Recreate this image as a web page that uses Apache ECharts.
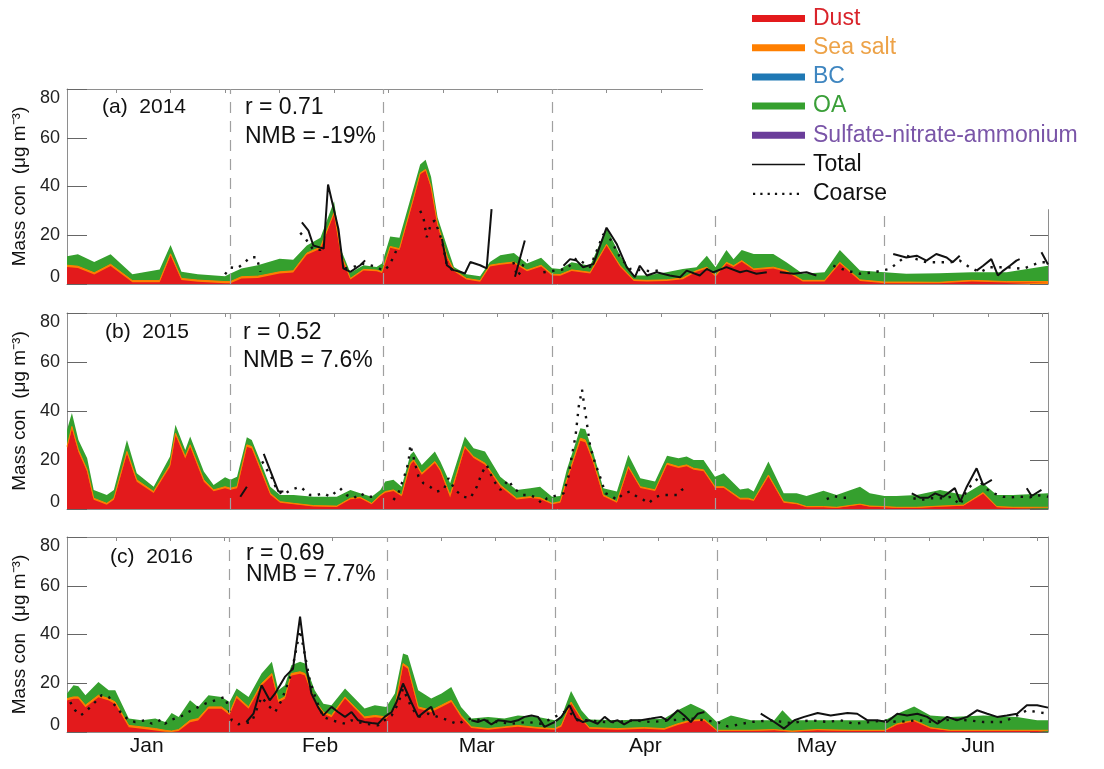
<!DOCTYPE html>
<html><head><meta charset="utf-8">
<script src="https://cdn.jsdelivr.net/npm/echarts@6/dist/echarts.min.js"></script>
<style>html,body{margin:0;padding:0;background:#fff}#c{width:1104px;height:769px}</style>
</head><body><div id="c"></div>
<script>
// ---------------- DATA ----------------
const monthLabels = ['Jan','Feb','Mar','Apr','May','Jun'];
const seriesNames = ['Dust','Sea salt','BC','OA','Sulfate-nitrate-ammonium','Total','Coarse'];
const yTicks = [0,20,40,60,80];
const panelLabels = ['(a)  2014','(b)  2015','(c)  2016'];
const rTexts = ['r = 0.71','r = 0.52','r = 0.69'];
const nmbTexts = ['NMB = -19%','NMB = 7.6%','NMB = 7.7%'];

// Panel (a) 2014 model components (day index, µg m-3)
const daysA = [1,3,6,9,13,18,20,22,25,30,31,33,36,40,42.5,45,47.5,50,51.3,53,55.4,57.8,58.8,60.3,62,64.6,65.8,66.8,67.8,69,70.8,72,74.3,76.8,78.6,80.5,83,85.4,88,90,91.5,93.6,97,100,102.5,105,107.4,111,114,116.5,118.4,120,122,123.3,124.8,127,130.6,133,136,140,142.8,146.5,151,155,161,167,173.4,181];
const dustA = [7.0,6.6,3.9,7.4,0.7,0.7,11.7,1.6,0.9,0.3, 0.3,2.3,2.5,4.3,4.7,12.0,14.5,28.8,11.5,1.8, 5.5,5.2,4.5,14.9,14.0,34.9,45.0,46.5,39.5,24.1, 10.5,5.2,1.8,0.9,7.2,7.9,8.5,5.2,7.2,3.5, 3.4,5.3,4.3,15.8,7.0,1.2,1.0,1.2,2.0,5.0, 6.4,3.0,8.4,7.0,9.1,5.7,6.4,5.0,1.0,1.0, 8.4,1.2,0.3,0.3,0.3,1.0,0.6,0.6];
const saltA = [0.7,0.7,0.7,0.7,0.7,0.7,0.7,0.7,0.7,0.7, 0.7,0.7,0.7,0.7,0.7,0.7,0.6,0.5,0.5,0.5, 0.5,0.5,0.5,0.5,0.5,0.5,0.5,0.5,0.5,0.5, 0.5,0.5,0.5,0.5,0.5,0.5,0.5,0.5,0.5,0.5, 0.5,0.5,0.5,0.5,0.5,0.5,0.5,0.5,0.5,0.5, 0.5,0.5,0.5,0.5,0.5,0.5,0.5,0.5,0.5,0.5, 0.5,0.5,0.5,0.5,0.4,0.5,0.4,0.4];
const oaA = [3.7,4.9,4.4,4.1,2.6,4.6,3.6,2.7,2.4,2.2, 3.3,3.4,4.5,5.4,4.6,3.1,3.9,4.7,2.0,2.3, 1.7,1.3,3.4,4.1,4.5,4.1,3.5,4.0,4.0,2.7, 4.0,1.3,1.7,1.8,1.3,3.4,3.7,2.7,3.1,2.5, 2.3,3.1,2.7,6.7,4.1,1.8,2.0,3.1,3.7,1.4, 4.7,3.4,5.0,2.7,4.3,6.1,5.4,3.4,2.7,3.3, 5.0,3.8,4.0,3.4,3.7,3.3,3.8,6.5];
// Panel (a) observations (null = gap)
const totalDaysA = [44.1,45.3,46.2,48.1,48.9,50.8,51.7,53,54.8,55.7,57, 69.8,70.7,71.9,73.1,74,75,76.8,78,78.9,80, 83.2,85,86, 92.1,93.3,94.5,95.7,97.6,100,101.9,103.7,105.2,106.1,107.4,109.2,111.6,113.5,114.7,117.1,118.4,119.6,122,124.5,125.7,127.5,129.4,130.5, 131.8,134.3,136.7,138.5,145, 152.6,155,156.9,158.7,160.5,162.4,163.5,164.8,166, 167.9,169.1,170.6,171.8,172.8,174,175.2,175.8,177, 179.8,181];
const totalA = [25.3,21.9,15.8,14.5,40.8,22.6,6.4,5,7.7,9.7,null, 18.5,7.7,5.7,5,4.3,9,7.7,6.4,30.7,null, 3,17.8,null, 7.5,10.2,9.6,6.9,8.2,23.1,16.3,6.9,2.8,7.5,3.5,4.8,3.5,2.8,5.5,3.5,6.2,4.8,6.9,4.8,5.5,4.2,4.8,null, 4.8,4.2,4.8,3.5,null, 12.3,10.9,11.6,9.6,12.3,10.9,8.9,11.6,null, 5.5,7.5,10.2,3.5,5.5,7.5,9.6,10.2,null, 13,8];
const coarseDaysA = [30,31,32.2,33.4,34.6,35.8,36.5,38, 43.8,44.7,46.2,47.5,48.1,49.5, 52,53.6,55.1,56.6,57.8,59.1,60,60.9,61.8,63, 65.8,66.4,67,67.9,68.5,69.8,70.7,71.9,73, 82.9,83.6,84.2,85,85.6,87, 88.4,90.5,92.7,94.5,97,99.4,100.6,102.5,104.3,108.6,110.4,112, 141.6,144,146.5,149,152,153.5,155,156.9,158.7,161.2,163,164.8,166.6,168.5,170.3,173.4,176.4,179.5,181];
const coarseA = [4,6.8,6.4,8.4,11,11,5,null, 21,18.8,14,14,15.1,null, 6.4,7,8.4,7.7,7,5.4,7.3,11,15.8,null, 30,27.3,19.2,25.3,26,17.8,7.7,5.4,null, 9,3,5,9.7,9.7,null, 4.8,5.5,6.2,10.6,6.9,20.4,18.7,10.9,6.2,5.1,6.2,null, 7.5,5.5,4.2,4.8,6.2,8.9,11.6,10.2,8.9,8.9,8.9,9.6,6.9,4.8,6.9,6.9,6.2,8.9,8.9];

// Panel (b) 2015
const daysB = [1,1.9,3.1,4.7,5.9,8.3,9.6,12,13.8,16.9, 19.9,20.9,22.7,23.6,26.1,27.9,30,31,32.2,34, 34.9,36.5,38.3,40.1,42.6,46.2,50.5,53,54.8,56.9, 58.5,59.4,60.9,62.4,64,64.6,66.1,68.5,69.5,71.3, 74,75.6,77.7,80.5,83.5,86,87.8,90,91.5,92.7, 95.2,96.1,97.6,99.4,101.9,104,106.2,108.9,111.1,113.2, 114.7,116,117.8,119.9,121.5,124.5,126,127,129.7,132.5, 134.9,136.7,139.8,142.2,146.5,148.3,151,153.2,156.9,161.2, 165.5,169.1,171.6,174.6,181];
const dustB = [24.7,32.9,23.3,15.2,3.8,1.7,3.8,22.7,11.1,6.5, 17.2,30.2,20.6,25.4,11.1,7.2,8.5,7.9,8.5,25.4, 24.7,15.8,5.8,2.6,1.9,1.0,0.8,4.0,4.4,1.9, 5.3,6.6,7.3,5.2,18.1,19.5,14.0,18.8,15.4,4.7, 24.9,20.8,18.1,9.2,3.9,4.5,4.1,1.9,2.6,11.3, 27.9,27.2,18.6,5.2,2.6,16.7,8.6,7.3,18.1,16.7, 17.4,16.0,15.4,8.6,8.6,3.9,3.9,3.3,13.3,2.6, 1.9,0.7,0.7,0.4,1.7,0.9,0.7,0.4,0.4,0.9, 1.3,6.2,0.7,0.4,0.4];
const saltB = [0.8,0.8,0.8,0.8,0.6,0.6,0.6,0.8,0.8,0.6, 0.8,0.8,0.8,0.8,0.8,0.6,0.6,0.6,0.6,0.8, 0.8,0.8,0.6,0.4,0.4,0.4,0.4,0.4,0.4,0.4, 0.4,0.5,0.5,0.5,0.6,0.6,0.6,0.6,0.6,1.0, 0.6,0.6,0.6,0.6,0.5,0.5,0.5,0.4,0.4,0.6, 1.0,1.0,0.8,0.5,0.4,0.6,0.5,0.5,0.6,0.6, 0.6,0.6,0.6,0.5,0.5,0.5,0.5,0.4,0.6,0.4, 0.4,0.3,0.3,0.3,0.3,0.3,0.3,0.3,0.3,0.3, 0.3,0.5,0.3,0.3,0.3];
const oaB = [6.8,5.5,4.1,4.7,3.4,3.4,3.4,4.7,2.7,2.0, 3.4,3.4,2.7,3.4,3.4,2.0,3.9,3.4,4.1,3.1, 2.7,2.8,2.7,2.7,3.4,3.6,3.8,3.4,1.6,2.7, 2.1,4.1,4.1,3.4,3.4,3.4,3.4,4.1,3.4,4.8, 4.1,3.4,4.8,3.4,3.4,3.5,4.5,2.7,2.3,4.1, 4.1,4.4,3.4,2.8,4.1,4.8,3.5,3.4,3.0,3.4, 3.4,3.4,4.0,4.1,5.5,3.6,4.1,3.4,5.5,3.4, 4.1,4.3,6.5,5.0,7.1,5.2,4.3,4.6,5.0,6.6, 4.1,3.8,4.7,5.0,5.7];
const totalDaysB = [32.8,34,35, 37.1,39.8,40.7,42, 156,157.5,159,160.3,161.8,163.9,164.9,166.1,167.9,169.1,170.7,172, 177.1,178,179.8];
const totalB = [5,9.1,null, 22.5,7.1,7.1,null, 6.4,4.6,4.6,6.4,5,8.5,3,9.1,16.6,9.8,11.9,null, 8.5,5.3,7.8];
const coarseDaysB = [36.8,37.4,38,38.6,39.5,40.7,42,43.8,45.6,46.8,48.1,49.3,51.1,52.3,53.6,54.8,56,57.2,58.5, 60.9,61.8,63.3,63.7,64,64.3,65.5,66.4,67.6,68.8,70.1,71,72.2,73.7,75,76.2,77.1,78,79.2,80.5,82,82.9,84.7,86,87.2,88.1,89.1, 92.1,93,93.6,94.3,94.6,94.9,95.2,95.5,97,97.9,98.8,99.8,100.7,101.9,103.1,104.3,105.6,106.8,107.7,108.9,110.1,111.4,112.9,113.8,114.7,116, 140.4,141.6,143.2,144.4,146, 156.3,157.8,159.4,161.8,163.3,164.9,166.1,168.2,169.4,171,172.8,174.3,175.9,177.7,178.9,181];
const coarseB = [19.4,17.3,14.6,12.6,7.8,5.7,7.8,9.1,5.7,5.7,6.4,5,8.5,5.7,4.4,6.4,5,5,null, 3.7,6.4,16,20,26.2,23.5,13.2,10.5,9.1,7.1,7.8,12.6,7.8,5,4.4,9.1,14.6,18,11.9,7.8,11.9,8.5,5.7,5.7,4.4,2.3,4.4, 6.4,13.2,21.4,29.6,35.7,41.9,45.3,48.7,25.5,18.7,13.2,6.4,5.7,3.7,6.4,7.1,5,3.7,2.3,4.8,5.7,5.7,5.7,7.8,9.1,null, 4,5.3,4.6,4.6,null, 4.4,3.7,4.4,4.4,5,1.6,7.8,12.6,8.5,6.4,5,4.8,5,4.8,5.7,5];

// Panel (c) 2016 (leap year)
const daysC = [1,2.2,3.1,4.4,6.8,8.7,9.9,12.4,14.8,17.3, 19.1,20.3,21.6,23.7,25.2,27.1,29.5,31,32.3,34.5, 36.9,38.8,40,41.2,42.4,44,44.9,46.7,48.3,49.8, 52.3,54.1,55.9,57.8,59.9,61.5,63,63.9,65.8,68.2, 70.1,71.9,73.7,75.6,78.7,81.7,84.2,87.9,91,92.2, 94,95.9,97.4,102.6,107.5,111.2,113.7,116.1,118.6,120.9, 123.5,127.2,131.5,133,134.8,139.4,145.6,151.9,154.2,157.3, 160.3,164,170.1,176.3,180,182];
const dustC = [12.9,13.6,13.6,10.2,14.3,12.9,11.5,1.9,1.3,0.6, 0.1,0.0,0.4,4.0,4.7,9.5,9.5,7.0,13.9,9.5, 19.1,23.2,12.2,13.6,23.2,23.9,23.2,12.2,7.5,6.1, 13.7,9.6,5.5,6.1,5.5,9.6,27.3,25.9,9.6,8.2, 10.3,12.3,6.1,1.6,0.9,1.6,2.2,1.3,0.9,2.2, 11.7,5.0,1.3,0.9,1.3,0.9,2.9,4.3,4.6,0.4, 0.4,0.4,0.7,0.4,0.1,0.7,0.4,0.4,3.0,4.4, 1.4,0.4,0.4,0.4,0.4,0.4];
const saltC = [0.8,0.8,0.8,0.8,0.8,0.8,0.8,0.8,0.8,0.8, 0.6,0.4,0.6,0.8,0.8,0.8,0.8,0.8,0.8,0.8, 0.8,0.8,0.8,0.8,0.8,0.8,0.8,0.8,0.7,0.7, 0.7,0.7,0.7,0.7,0.7,0.7,0.8,0.8,0.7,0.7, 0.7,0.7,0.7,0.5,0.5,0.5,0.5,0.5,0.5,0.5, 0.6,0.5,0.5,0.5,0.5,0.5,0.5,0.5,0.5,0.3, 0.3,0.3,0.3,0.3,0.3,0.3,0.3,0.3,0.4,0.4, 0.4,0.3,0.3,0.3,0.3,0.3];
const oaC = [2.1,4.8,4.4,4.1,5.4,3.4,4.8,2.8,2.7,4.1, 3.4,7.4,5.2,8.2,4.8,4.8,4.1,4.5,3.1,4.1, 4.1,4.8,4.1,4.8,3.4,4.1,4.1,4.1,3.4,4.2, 3.4,3.4,3.4,4.2,4.1,5.5,4.1,4.8,6.8,4.8, 4.8,5.5,3.5,3.4,4.8,3.4,4.1,4.4,3.4,3.5, 4.5,3.4,3.3,3.4,3.3,4.1,5.5,6.8,3.8,3.4, 6.1,4.1,3.8,8.2,4.4,3.8,4.1,4.1,4.1,5.7, 5.0,5.5,6.1,5.5,4.1,4.1];
const totalDaysC = [34.1,35.4,36.9,38.4,39.4,41.2,42.7,44,45.2,46.1,47.3,48.3,49.8,51,52.3,53.5,54.7,55.9,57.2,58.4,59.6,60.9,61.8,63,64.5,65.8,67.3,68.2,68.8,70, 75.6,76.8,78,79.3,80.5,81.7,82.9,84.2,85.4,86.7,87.9,89.1,91,92.2,93.7,94.9,96.2,97.4,98.9,100.2,101.4,102.6,103.8,105.1,106.9,108.8,110.6,111.8,113.7,114.9,116.1,117.4,118.6,120, 129,131.5,133.3,135.2,137,139.5,141.9,145,146.8,148.7,150.5,152.3,154.2,156,157.9,159.7,161.6,163.4,165.2,167.1,168.9,170.8,172.6,174.4,176.3,178.1,180,182];
const totalC = [4.1,7.5,19.2,13,15.8,22.6,26,47.3,26,15.8,10.3,6.8,10.3,8.2,6.2,8.2,4.8,4.1,3.7,3.4,6.2,8.2,12.3,19.9,12.3,6.2,8.9,10.3,6.8,null, 4.8,4.1,5.1,3.1,4.8,4.5,4.1,4.8,6.2,6.8,6.2,2.1,4.1,6.2,11,5.5,4.1,4.8,3.4,6.2,4.1,4.8,3.1,4.8,4.8,5.5,6.2,4.8,8.9,6.8,4.1,7.5,8.2,null, 7.5,4.1,1.4,4.8,6.2,7.8,6.8,7.8,7.5,4.8,4.8,4.1,7.5,6.8,7.5,6.2,3.4,6.2,4.8,6.2,8.9,7.5,6.2,6.8,7.5,11,11,10];
const coarseDaysC = [1.6,2.5,3.5,4.4,6.2,7.4,8.7,9.6,11.1,12.4,13.6,15.4,16.7,18.5,19.1,20.3,21.9,23.4,24.6,26.5,28.3,30.2,31.4,32.6,35.1,36.9,38.1,39.4,40.6,42.4,44,44.6,45.8,47,48.3,49.8,52.3,53.5,55.9,58.4,59.6,60.9,62.1,63,64.5,65.8,67.6,69.4,71.3,73.1,74.4,75.6,77.4,80.5,83,86,88.5,93.4,95.2,97.1,100.2,102.6,105.7,108.8,112.4,116.1,118.6,121,122.9,124.1,127.2,130.9,134.5,138.2,141.3,143.7,146.2,149.3,151.7,154.2,157.9,160.9,164,167.1,170.1,173.8,176.3,178.1,180,182];
const coarseC = [12.3,8.9,6.8,8.2,12.3,15.1,14.4,11.6,7.5,4.8,4.1,4.8,3.4,5.1,3.4,5.1,6.2,8.2,9.6,11.6,13,14.4,4.8,3.2,4.1,14.4,10.9,8.2,13,24,41.8,35,21.2,13,6.2,4.8,3.4,4.8,3.4,2.7,4.8,6.8,11.6,17.8,10.3,6.2,7.5,6.2,4.8,3.2,4.8,5.5,4.8,4.1,3.4,4.1,3.4,8.9,4.8,4.8,4.1,4.1,4.8,4.1,4.8,5.5,4.8,4.1,2.3,2.7,4.1,4.8,3.7,4.8,4.1,4.8,3.4,4.1,4.8,4.1,4.8,4.1,5.1,4.8,4.1,4.1,6.8,8.9,8.2,7.5];

// ---------------- CHART ----------------
const FONT = "'Liberation Sans', Arial, Helvetica, sans-serif";
const COLORS = {Dust:'#e31a1c','Sea salt':'#ff7f00',BC:'#1f78b4',OA:'#35a02e','Sulfate-nitrate-ammonium':'#6a3d9a',Total:'#111111',Coarse:'#111111'};
const TEXTCOL = {Dust:'#d9242b','Sea salt':'#eda247',BC:'#3f86c0',OA:'#3a9f38','Sulfate-nitrate-ammonium':'#7a55a8',Total:'#111',Coarse:'#111'};
const zip = (xs, ys) => xs.map((x, i) => [x, ys[i]]);
// cumulative stacking (dust, dust+salt, dust+salt+oa), drawn back-to-front
const cum = (...arrs) => arrs[0].map((_, i) => +arrs.reduce((s, a) => s + a[i], 0).toFixed(3));

const panels = [
  {top:89, height:195, xmax:181, months:[31,59,90,120,151], days:daysA, dust:dustA, salt:saltA, oa:oaA, tD:totalDaysA, tV:totalA, cD:coarseDaysA, cV:coarseA,
   lab:{left:102, top:97}, r:{left:245, top:96}, nmb:{left:245, top:125}},
  {top:313, height:196, xmax:181, months:[31,59,90,120,151], days:daysB, dust:dustB, salt:saltB, oa:oaB, tD:totalDaysB, tV:totalB, cD:coarseDaysB, cV:coarseB,
   lab:{left:105, top:322}, r:{left:243, top:321}, nmb:{left:243, top:349}},
  {top:537, height:195, xmax:182, months:[31,60,91,121,152], days:daysC, dust:dustC, salt:saltC, oa:oaC, tD:totalDaysC, tV:totalC, cD:coarseDaysC, cV:coarseC,
   lab:{left:110, top:547}, r:{left:246, top:542}, nmb:{left:246, top:563}}
];
const tickDays = [10,20,30,40,50,60,70,80,90,100,110,120,130,140,150,160,170,180];
const monthLabelDays = [15.7,47.7,76.6,107.7,139.3,169.1];
const AXC = '#8e8e8e';

const grids = [], xAxes = [], yAxes = [], series = [], titles = [];
panels.forEach((P, p) => {
  grids.push({left:67, right:56, top:P.top, height:P.height, containLabel:false});
  const isLast = p === panels.length - 1;
  xAxes.push({
    type:'value', gridIndex:p, min:1, max:P.xmax, position:'bottom',
    axisLine:{show:true, onZero:false, lineStyle:{color:AXC, width:1}},
    axisTick:{show:true, inside:true, length:4, customValues:tickDays, lineStyle:{color:AXC}},
    axisLabel: isLast ? {show:true, customValues:monthLabelDays, margin:4, fontSize:21, color:'#111', fontFamily:FONT,
      formatter: v => { const i = monthLabelDays.findIndex(m => Math.abs(m - v) < 0.01); return i >= 0 ? monthLabels[i] : ''; }} : {show:false},
    splitLine:{show:false}
  });
  xAxes.push({
    type:'value', gridIndex:p, min:1, max:P.xmax, position:'top',
    axisLine:{show:true, onZero:false, lineStyle:{color:AXC, width:1}},
    axisTick:{show:true, inside:true, length:4, customValues:tickDays, lineStyle:{color:AXC}},
    axisLabel:{show:false}, splitLine:{show:false}
  });
  yAxes.push({
    type:'value', gridIndex:p, min:0, max:80, interval:20, position:'left',
    axisLine:{show:true, lineStyle:{color:AXC, width:1}},
    axisTick:{show:true, inside:true, length:20, lineStyle:{color:'#666'}},
    axisLabel:{fontSize:18, color:'#222', margin:7, fontFamily:FONT,
      formatter: v => v === yTicks[0] ? '{lo|' + v + '}' : (v === yTicks[yTicks.length-1] ? '{hi|' + v + '}' : String(v)),
      rich:{lo:{fontSize:18, color:'#222', fontFamily:FONT, padding:[0,0,14,0]}, hi:{fontSize:18, color:'#222', fontFamily:FONT, padding:[18,0,0,0]}}},
    splitLine:{show:false},
    name:'Mass con  (μg m⁻³)', nameLocation:'middle', nameGap:35, nameRotate:90,
    nameTextStyle:{fontSize:19, color:'#111', fontFamily:FONT}
  });
  yAxes.push({
    type:'value', gridIndex:p, min:0, max:80, interval:20, position:'right',
    axisLine:{show:true, lineStyle:{color:AXC, width:1}},
    axisTick:{show:true, inside:true, length:18, lineStyle:{color:'#666'}},
    axisLabel:{show:false}, splitLine:{show:false}
  });
  const xi = p * 2, yi = p * 2;
  const area = (name, data, extra) => Object.assign({
    name, type:'line', xAxisIndex:xi, yAxisIndex:yi, data,
    symbol:'none', smooth:false, color:COLORS[name],
    lineStyle:{width:0}, areaStyle:{color:COLORS[name], opacity:1, origin:'start'}, silent:true
  }, extra || {});
  // back-to-front: OA top, sea-salt top, dust
  series.push(area('OA', zip(P.days, cum(P.dust, P.salt, P.oa)), {z:2}));
  series.push(area('Sea salt', zip(P.days, cum(P.dust, P.salt)), {z:2, lineStyle:{width:1, color:COLORS['Sea salt']}}));
  series.push(area('Dust', zip(P.days, P.dust), {z:2,
    markLine:{silent:true, symbol:['none','none'], label:{show:false}, z:5,
      lineStyle:{type:[11,8], color:'#a0a0a0', width:1.2},
      emphasis:{disabled:true},
      data:P.months.map(m => ({xAxis:m}))}
  }));
  series.push({name:'BC', type:'line', xAxisIndex:xi, yAxisIndex:yi, data:[], symbol:'none', color:COLORS.BC});
  series.push({name:'Sulfate-nitrate-ammonium', type:'line', xAxisIndex:xi, yAxisIndex:yi, data:[], symbol:'none', color:COLORS['Sulfate-nitrate-ammonium']});
  series.push({name:'Total', type:'line', xAxisIndex:xi, yAxisIndex:yi, data:zip(P.tD, P.tV), connectNulls:false,
    symbol:'none', color:'#111', lineStyle:{width:2, color:'#111'}, z:4, silent:true});
  series.push({name:'Coarse', type:'line', xAxisIndex:xi, yAxisIndex:yi, data:zip(P.cD, P.cV), connectNulls:false,
    symbol:'none', color:'#111', lineStyle:{width:2.4, color:'#111', type:[2.4,6.5], cap:'butt'}, z:4, silent:true});
  const ts = {fontWeight:'normal', color:'#111', fontFamily:FONT};
  titles.push({text:panelLabels[p], left:P.lab.left, top:P.lab.top, padding:0, textStyle:Object.assign({fontSize:21}, ts)});
  titles.push({text:rTexts[p], left:P.r.left, top:P.r.top, padding:0, textStyle:Object.assign({fontSize:23}, ts)});
  titles.push({text:nmbTexts[p], left:P.nmb.left, top:P.nmb.top, padding:0, textStyle:Object.assign({fontSize:23}, ts)});
});

// legend icons
const totalIcon = 'path://M0,0h0.05v0.05h-0.05z M0,2.8h53v1.5h-53z M52.95,6.95h0.05v0.05h-0.05z';
let dots = 'path://M0,0h0.05v0.05h-0.05z M52.95,6.95h0.05v0.05h-0.05z';
for (let k = 0; k < 7; k++) { const x0 = 1 + k * 7.3; dots += ' M' + x0 + ',2.5h2.2v2.2h-2.2z'; }
const legendData = seriesNames.map(n => {
  let icon = 'rect';
  if (n === 'Total') icon = totalIcon;
  if (n === 'Coarse') icon = dots;
  return {name:n, icon, itemStyle:{color:COLORS[n], borderWidth:0}, textStyle:{color:TEXTCOL[n]}};
});

const chart = echarts.init(document.getElementById('c'), null, {renderer:'canvas'});
chart.setOption({
  animation:false,
  backgroundColor:'#fff',
  title:titles,
  legend:{
    data:legendData, orient:'vertical', left:703, top:0,
    padding:[7,30,4,49], itemGap:6.2, itemWidth:53, itemHeight:7,
    backgroundColor:'#fff', z:10, selectedMode:false,
    textStyle:{fontSize:23, fontFamily:FONT, lineHeight:23, padding:[0,0,0,3]}
  },
  grid:grids, xAxis:xAxes, yAxis:yAxes, series
});
</script></body></html>
